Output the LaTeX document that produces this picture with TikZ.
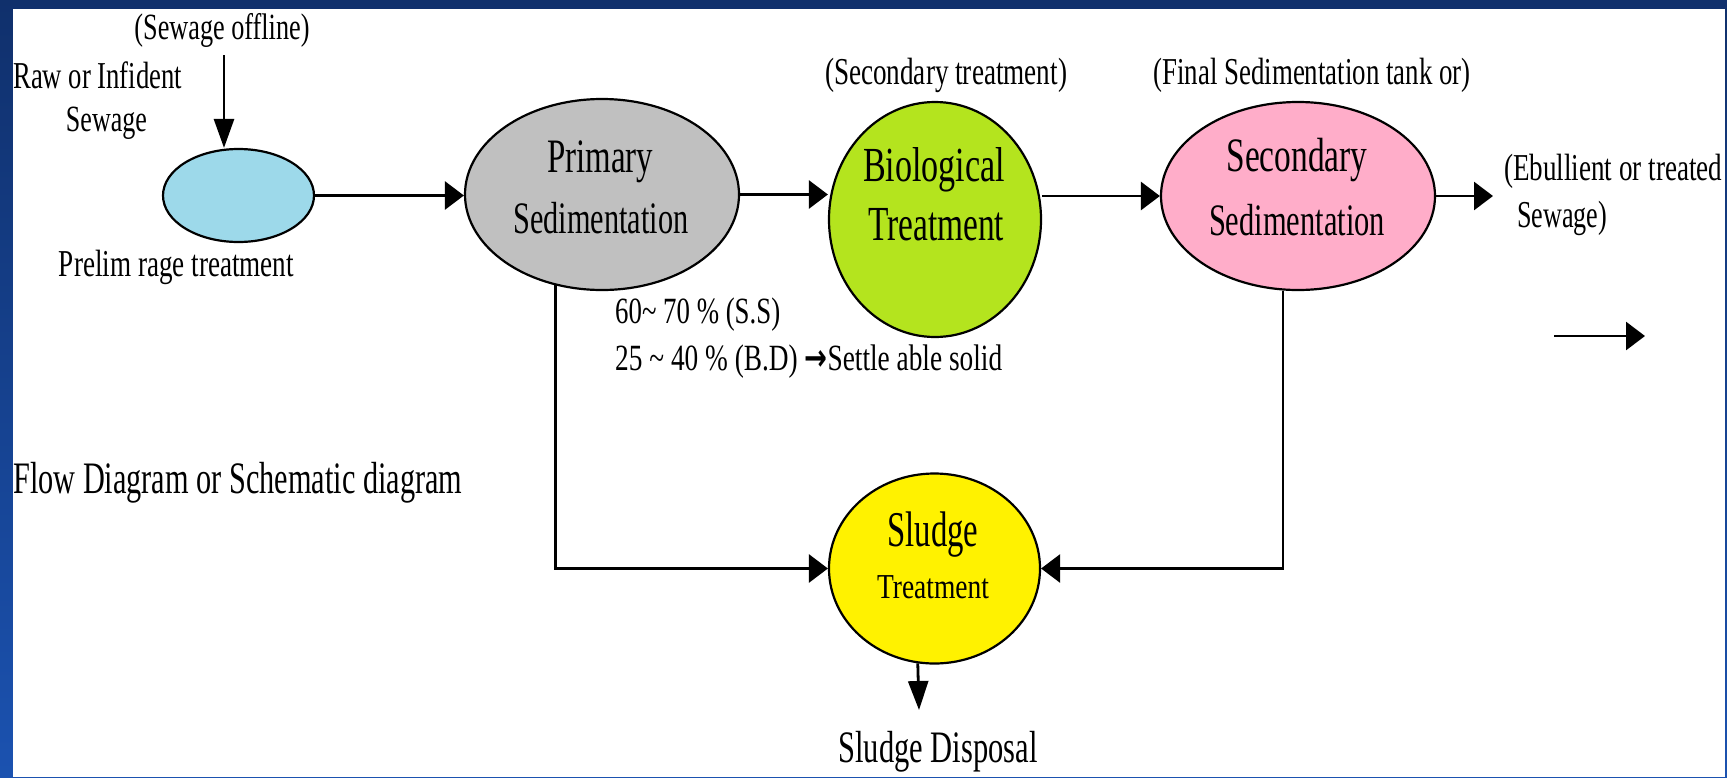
\documentclass[tikz,border=0pt]{standalone}
\usepackage{fontspec}
\setmainfont{Liberation Serif}
\newfontfamily\djv{DejaVu Sans}
\usepackage{graphicx}
\usetikzlibrary{shapes.geometric,arrows.meta}
\newcommand{\fw}[3]{\resizebox{#1pt}{\height}{\fontsize{#2pt}{#2pt}\selectfont #3}}
\definecolor{navy}{HTML}{10306C}
\definecolor{brightblue}{HTML}{1B52B0}
\definecolor{cblue}{HTML}{9DD9EA}
\definecolor{cgray}{HTML}{C0C0C0}
\definecolor{cgreen}{HTML}{B4E41E}
\definecolor{cpink}{HTML}{FFADC9}
\definecolor{cyellow}{HTML}{FFF200}
\begin{document}
\begin{tikzpicture}[x=1pt,y=-1pt,
  txt/.style={inner sep=0pt,anchor=center},
  blob/.style={ellipse,draw=black,line width=2.2pt,inner sep=0pt},
  con/.style={line width=2.8pt},
  hA/.style={con,-{Triangle[length=19pt,width=28pt]}},
  vA/.style={con,-{Triangle[length=29pt,width=20pt]}}]
\useasboundingbox (0,0) rectangle (1727,777);
\fill[top color=navy,bottom color=brightblue] (0,0) rectangle (1727,777);
\fill[white] (13,9) rectangle (1725,777);

% ellipses
\node[blob,fill=cblue,minimum width=151pt,minimum height=93pt] (blue) at (238.5,195.5) {};
\node[blob,fill=cgray,minimum width=274pt,minimum height=191pt] (gray) at (602,194.5) {};
\node[blob,fill=cgreen,minimum width=212pt,minimum height=235pt] (green) at (935,219.5) {};
\node[blob,fill=cpink,minimum width=274pt,minimum height=188pt] (pink) at (1298,196) {};
\node[blob,fill=cyellow,minimum width=211pt,minimum height=190pt] (yellow) at (934.5,568.5) {};

% texts
\node[txt] (offline) at (222,30) {\fw{175}{37}{(Sewage offline)}};
\node[txt,anchor=west] (raw) at (13,75) {\fw{169}{38}{Raw or Infident}};
\node[txt] (rawb) at (106.5,123) {\fw{81}{37}{Sewage}};
\node[txt] (prelim) at (176.5,267) {\fw{235}{38}{Prelim rage treatment}};
\node[txt] (grayA) at (600,162) {\fw{106}{48}{Primary}};
\node[txt] (grayB) at (601,218) {\fw{175}{45}{Sedimentation}};
\node[txt] (sectr) at (946,75) {\fw{242}{38}{(Secondary treatment)}};
\node[txt] (greenA) at (934,170) {\fw{142}{49}{Biological}};
\node[txt] (greenB) at (936,225) {\fw{136}{49}{Treatment}};
\node[txt] (finsed) at (1312,75) {\fw{317}{38}{(Final Sedimentation tank or)}};
\node[txt] (pinkA) at (1297,160) {\fw{141}{48}{Secondary}};
\node[txt] (pinkB) at (1297,220) {\fw{176}{45}{Sedimentation}};
\node[txt,anchor=west] (ebu) at (1504,171) {\fw{218}{38}{(Ebullient or treated}};
\node[txt,anchor=west] (ebub) at (1517,218) {\fw{90}{38}{Sewage)}};
\node[txt,anchor=west] (pctA) at (615,315) {\fw{165}{37}{60\textasciitilde{} 70 \% (S.S)}};
\node[txt,anchor=west] (pctB) at (615,362) {\fw{387}{37}{25 \textasciitilde{} 40 \% (B.D) {\djv\bfseries →}Settle able solid}};
\node[txt,anchor=west] (flow) at (13,483) {\fw{449}{45}{Flow Diagram or Schematic diagram}};
\node[txt] (yelA) at (933,535) {\fw{91}{50}{Sludge}};
\node[txt] (yelB) at (933,587) {\fw{112}{35}{Treatment}};
\node[txt] (disp) at (938,752) {\fw{199}{45}{Sludge Disposal}};

% coordinates
\coordinate (sin) at (224,55);
\coordinate (outE) at (1493,196);
\coordinate (dispTop) at (919,710);
\coordinate (smA) at (1554,336);
\coordinate (smB) at (1645,336);

% connectors
\draw[vA] (sin) -- (sin |- blue.north);
\draw[hA] (blue.east) -- (blue.east -| gray.west);
\draw[hA] (gray.east) -- (gray.east -| green.west);
\draw[hA] (green.east |- pink.west) -- (pink.west);
\draw[hA] (pink.east) -- (outE);
\draw[hA] (gray.243) |- (yellow.west);
\draw[hA] (pink.261) |- (yellow.east);
\draw[vA] (yellow.260) -- (dispTop);
\draw[hA] (smA) -- (smB);
\end{tikzpicture}
\end{document}
